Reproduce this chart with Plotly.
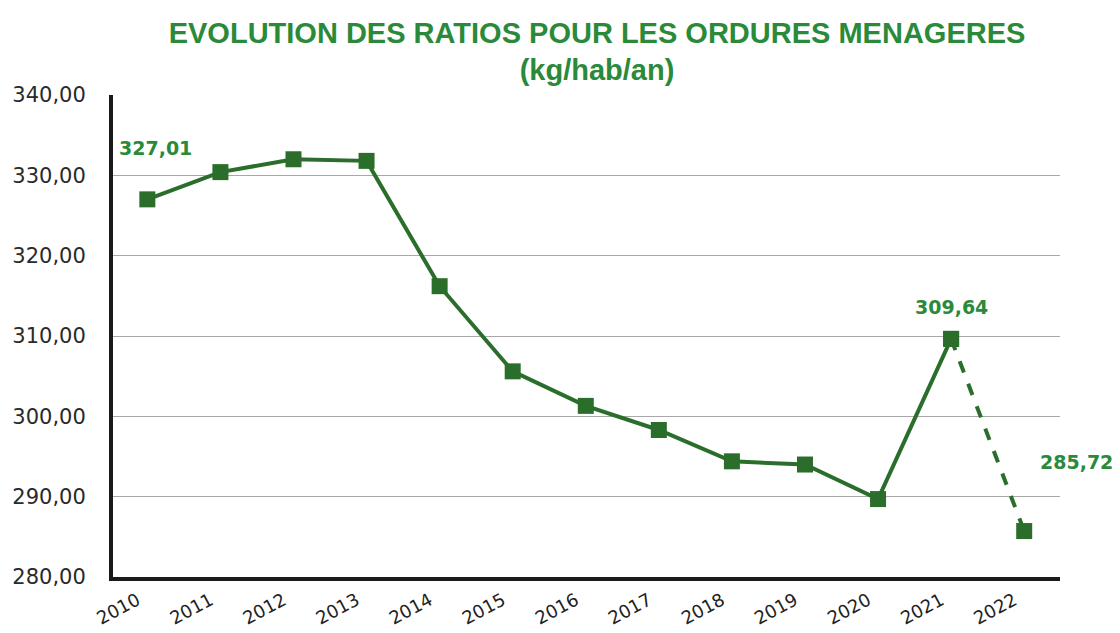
import plotly.graph_objects as go

years = ["2010", "2011", "2012", "2013", "2014", "2015", "2016",
         "2017", "2018", "2019", "2020", "2021", "2022"]
ratios = [327.01, 330.4, 332.0, 331.8, 316.2, 305.6, 301.3,
          298.3, 294.4, 294.0, 289.7, 309.64, 285.72]
y_tickvals = [280, 290, 300, 310, 320, 330, 340]
y_ticktext = ["280,00", "290,00", "300,00", "310,00", "320,00", "330,00", "340,00"]
labels = {"2010": "327,01", "2021": "309,64", "2022": "285,72"}

line_color = "#2b6e2b"
label_color = "#2a8a3a"

fig = go.Figure()
fig.add_trace(go.Scatter(
    x=years[:12], y=ratios[:12], mode="lines+markers",
    line=dict(color=line_color, width=4),
    marker=dict(symbol="square", size=16, color=line_color),
    showlegend=False, hoverinfo="skip"))
fig.add_trace(go.Scatter(
    x=years[11:], y=ratios[11:], mode="lines+markers",
    line=dict(color=line_color, width=4, dash="dash"),
    marker=dict(symbol="square", size=16, color=line_color),
    showlegend=False, hoverinfo="skip"))

offsets = {"2010": (8, 51), "2021": (0, 32), "2022": (52, 69)}
for yr, txt in labels.items():
    i = years.index(yr)
    dx, dy = offsets[yr]
    fig.add_annotation(x=i, y=ratios[i], xref="x", yref="y",
                       text="<b>" + txt + "</b>",
                       showarrow=False, xshift=dx, yshift=dy,
                       font=dict(family="DejaVu Sans", size=19, color=label_color))

# page body adds an 8px offset; size the figure to fit the 1120x633 window
fig.update_layout(
    width=1112, height=625,
    paper_bgcolor="white", plot_bgcolor="white",
    margin=dict(l=105, r=60, t=87, b=56),
    title=dict(
        text="<b>EVOLUTION DES RATIOS POUR LES ORDURES MENAGERES<br>(kg/hab/an)</b>",
        x=0.5297, xanchor="center", yref="container", y=0.9448, yanchor="middle",
        font=dict(family="Liberation Sans Narrow, Arial Narrow, sans-serif",
                  size=29, color=label_color)),
    xaxis=dict(
        type="category", categoryorder="array", categoryarray=years,
        range=[-0.47, 12.49], showgrid=False, automargin=False,
        showline=True, linecolor="#1a1a1a", linewidth=4,
        tickangle=-28, ticks="", ticklabelstandoff=2, ticklabelshift=-10,
        tickfont=dict(family="DejaVu Sans", size=18, color="#222222")),
    yaxis=dict(
        range=[280, 340], tickvals=y_tickvals, ticktext=y_ticktext,
        showgrid=True, gridcolor="#a8a8a8", gridwidth=1, automargin=False,
        showline=True, linecolor="#1a1a1a", linewidth=4,
        zeroline=False, ticks="", ticklabelstandoff=19,
        tickfont=dict(family="DejaVu Sans", size=21, color="#2a2a2a")),
)

fig.write_html("out.html")
